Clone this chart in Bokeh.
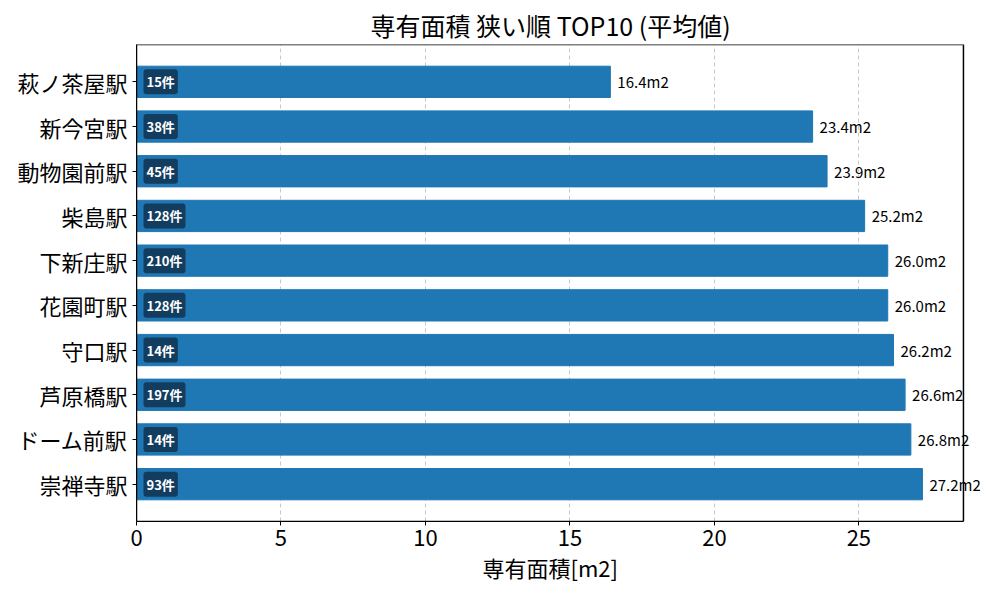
'''
専有面積 狭い順 TOP10 (平均値) -- horizontal bar chart with Bokeh
'''
from bokeh.plotting import figure
from bokeh.models import (FactorRange, Range1d, ColumnDataSource, SingleIntervalTicker,
	LabelSet, BoxAnnotation, Title)
from bokeh.core.properties import value
from bokeh.embed import file_html
from bokeh.resources import INLINE

# data, top of chart first
stations = ['萩ノ茶屋駅', '新今宮駅', '動物園前駅', '柴島駅', '下新庄駅',
            '花園町駅', '守口駅', '芦原橋駅', 'ドーム前駅', '崇禅寺駅']
areas = [16.4, 23.4, 23.9, 25.2, 26.0, 26.0, 26.2, 26.6, 26.8, 27.2]
counts = [15, 38, 45, 128, 210, 128, 14, 197, 14, 93]

FONT = 'Noto Sans CJK JP'
X_MAX = 28.62   # visible axes box right edge

src = ColumnDataSource(data=dict(
	station=stations,
	area=areas,
	zero=[0] * len(areas),
	area_label=[f'{a:.1f}m2' for a in areas],
	count_label=[f'{c}件' for c in counts],
))

# the frame is a bit wider than the drawn box so that the last value labels are not cut
p = figure(
	width=984, height=584,
	y_range=FactorRange(factors=stations[::-1], range_padding=0.067),
	x_range=Range1d(0, 29.21),
	output_backend='svg',
	toolbar_location=None,
	min_border_left=136, min_border_right=4,
	min_border_top=44, min_border_bottom=63,
)

# bars
p.hbar(y='station', right='area', left=0, height=0.7, color='#1f77b4', source=src)

# value labels after the bar ends
p.add_layout(LabelSet(x='area', y='station', text='area_label', source=src,
	x_offset=7, text_baseline='middle', text_align='left',
	text_font=value(FONT), text_font_size='15px', text_color='black'))

# count badges inside the bars
p.text(x='zero', y='station', text='count_label', source=src,
	x_offset=7, text_baseline='middle', text_align='left',
	text_font=value(FONT), text_font_size='13px', text_font_style='bold',
	text_color='white',
	background_fill_color='#133a5b', background_fill_alpha=0.95,
	border_radius=3, padding=3)

# axes box
p.outline_line_color = None
p.add_layout(BoxAnnotation(left=0, right=X_MAX, fill_alpha=0,
	line_color='black', line_alpha=1, line_width=1.5, level='overlay'))

# title, centred over the drawn box (not the wider frame)
p.add_layout(Title(text='専有面積 狭い順 TOP10 (平均値)', align='left', offset=234,
	text_font=FONT, text_font_size='25px', text_font_style='normal',
	text_color='black', standoff=4), 'above')

# x axis label as a title below, for the same reason
p.add_layout(Title(text='専有面積[m2]', align='left', offset=346,
	text_font=FONT, text_font_size='22px', text_font_style='normal',
	text_color='black', standoff=0), 'below')

# axes
p.xaxis.ticker = SingleIntervalTicker(interval=5)
p.xaxis.bounds = (0, X_MAX)
for ax in (p.xaxis, p.yaxis):
	ax.major_label_text_font = FONT
	ax.major_label_text_font_size = '22px'
	ax.major_label_text_color = 'black'
	ax.axis_line_color = 'black'
	ax.major_tick_line_color = 'black'
	ax.minor_tick_line_color = None
	ax.major_tick_out = 4
	ax.major_tick_in = 0
p.yaxis.major_label_standoff = 5
p.xaxis.major_label_standoff = 4

# grid
p.ygrid.grid_line_color = None
p.xgrid.grid_line_color = '#c8c8c8'
p.xgrid.grid_line_dash = '4 3'

p.background_fill_color = 'white'
p.border_fill_color = 'white'

open('out.html', 'w').write(file_html(p, INLINE))
